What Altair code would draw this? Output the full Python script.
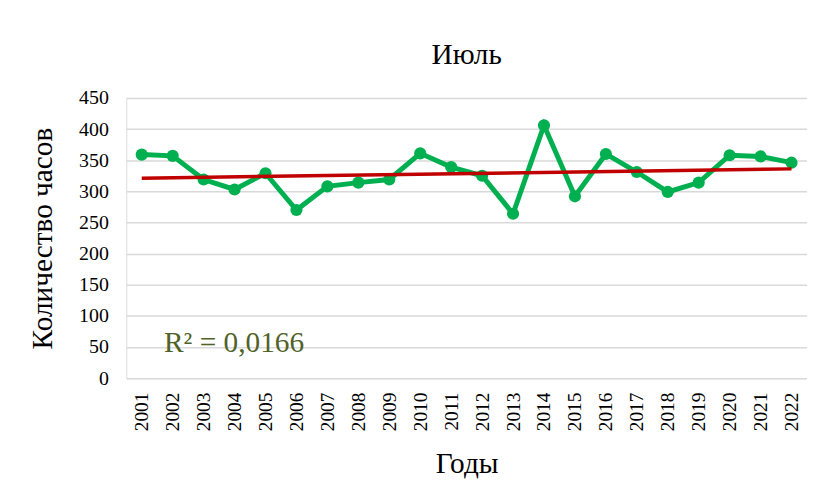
import altair as alt
import pandas as pd

years = list(range(2001, 2023))
hours = [359, 357, 319, 303, 329, 270, 308, 314, 319, 361, 339, 325,
         264, 406, 292, 360, 331, 299, 314, 358, 356, 346]
y_ticks = [0, 50, 100, 150, 200, 250, 300, 350, 400, 450]
title_text = "Июль"
x_title = "Годы"
y_title = "Количество часов"
r2_label = "R² = 0,0166"

df = pd.DataFrame({"year": years, "hours": hours})
FONT = "Liberation Serif"

x_enc = alt.X("year:Q",
              scale=alt.Scale(domain=[2000.5, 2022.5], nice=False, zero=False),
              axis=alt.Axis(values=years, format="d", labelAngle=-90, title=x_title,
                            grid=False, domain=False, ticks=False, labelPadding=14,
                            labelOverlap=False,
                            labelFont=FONT, labelFontSize=19.5, labelColor="#000000",
                            titleFont=FONT, titleFontSize=29.5, titleFontWeight="normal",
                            titleColor="#000000", titlePadding=19))
y_enc = alt.Y("hours:Q",
              scale=alt.Scale(domain=[0, 450], nice=False),
              axis=alt.Axis(values=y_ticks, title=y_title, domain=False, ticks=False,
                            labelOverlap=False,
                            labelPadding=18, labelFont=FONT, labelFontSize=20,
                            labelColor="#000000", titleFont=FONT, titleFontSize=29.5,
                            titleFontWeight="normal", titleColor="#000000",
                            titlePadding=21, gridColor="#d9d9d9", gridWidth=1.5))

base = alt.Chart(df)
line = base.mark_line(color="#00b050", strokeWidth=5,
                      point=alt.OverlayMarkDef(color="#00b050", size=150, filled=True, opacity=1)
                      ).encode(x=x_enc, y=y_enc)
trend = base.transform_regression("year", "hours").mark_line(
    color="#c00000", strokeWidth=3.5).encode(x=x_enc, y=y_enc)
r2 = alt.Chart(pd.DataFrame({"t": [r2_label]})).mark_text(
    font=FONT, fontSize=29.5, color="#4f6228", align="left", baseline="middle"
).encode(text="t:N", x=alt.value(38), y=alt.value(247))

chart = alt.layer(line, trend, r2).properties(
    width=685, height=282,
    title=alt.TitleParams(title_text, font=FONT, fontSize=29.5, fontWeight="normal",
                          color="#000000", offset=18),
    autosize=alt.AutoSizeParams(type="none"),
    padding={"left": 119, "top": 89, "right": 0, "bottom": 102},
).configure_view(stroke=None).configure(background="white")

chart.save("out.html", embed_options={"renderer": "svg", "actions": False})
